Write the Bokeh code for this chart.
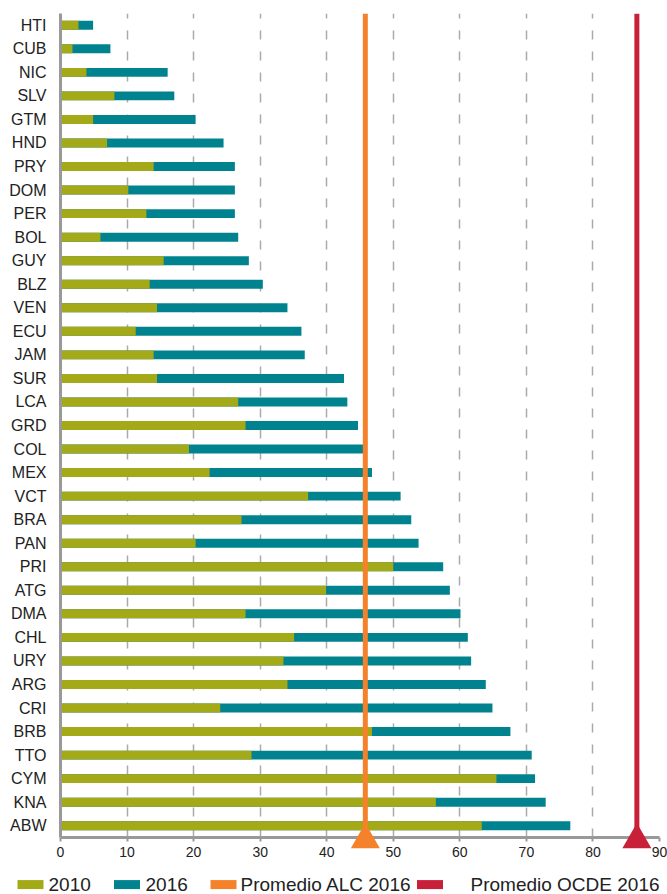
from bokeh.plotting import figure
from bokeh.models import ColumnDataSource, FactorRange, Range1d, Span, FixedTicker
from bokeh.core.properties import value
from bokeh.embed import file_html
from bokeh.resources import INLINE

countries = ["HTI", "CUB", "NIC", "SLV", "GTM", "HND", "PRY", "DOM", "PER", "BOL",
             "GUY", "BLZ", "VEN", "ECU", "JAM", "SUR", "LCA", "GRD", "COL", "MEX",
             "VCT", "BRA", "PAN", "PRI", "ATG", "DMA", "CHL", "URY", "ARG", "CRI",
             "BRB", "TTO", "CYM", "KNA", "ABW"]
v2010 = [2.7, 1.8, 3.9, 8.1, 4.9, 7.0, 14.0, 10.2, 12.9, 6.0,
         15.5, 13.4, 14.5, 11.3, 14.0, 14.5, 26.7, 27.8, 19.3, 22.4,
         37.2, 27.2, 20.3, 50.0, 39.9, 27.8, 35.1, 33.5, 34.1, 24.0,
         46.8, 28.7, 65.5, 56.4, 63.3]
v2016 = [4.9, 7.5, 16.1, 17.1, 20.3, 24.5, 26.2, 26.2, 26.2, 26.7,
         28.3, 30.4, 34.1, 36.2, 36.7, 42.6, 43.1, 44.7, 45.5, 46.8,
         51.1, 52.7, 53.8, 57.5, 58.5, 60.1, 61.2, 61.7, 63.9, 64.9,
         67.6, 70.8, 71.3, 72.9, 76.6]
legend_labels = ["2010", "2016", "Promedio ALC 2016", "Promedio OCDE 2016"]
avg_values = [45.8, 86.6]
x_ticks = [0, 10, 20, 30, 40, 50, 60, 70, 80, 90]

OLIVE = "#A4A917"
TEAL = "#00838F"
ORANGE = "#F5822A"
RED = "#C9203A"
AXIS = "#999999"
FONT = "Liberation Sans"

# layout constants (pixels)
FRAME_LEFT, FRAME_W = 60, 599
X_MAX = 90
PX_PER_UNIT = FRAME_W / X_MAX

p = figure(y_range=FactorRange(factors=countries[::-1]),
           x_range=Range1d(0, X_MAX),
           width=667, height=894,
           min_border_left=FRAME_LEFT, min_border_right=667 - FRAME_LEFT - FRAME_W,
           min_border_top=13, min_border_bottom=57,
           output_backend="svg", toolbar_location=None)
p.outline_line_color = None
p.background_fill_color = "white"

src = ColumnDataSource(dict(country=countries, v2010=v2010, v2016=v2016))
p.hbar(y="country", left=0, right="v2016", height=0.38, fill_color=TEAL,
       line_color=None, source=src)
p.hbar(y="country", left=0, right="v2010", height=0.38, fill_color=OLIVE,
       line_color=None, source=src)

for v, c in zip(avg_values, [ORANGE, RED]):
    p.add_layout(Span(location=v, dimension="height", line_color=c, line_width=5))

# triangles sitting on the x axis (bottom edge of the last category)
base = (countries[-1], -0.6)
tri_src = ColumnDataSource(dict(x=avg_values, y=[base, base], c=[ORANGE, RED]))
p.scatter(x="x", y="y", marker="triangle", size=29, fill_color="c", line_color=None,
          source=tri_src, level="overlay")

# legend drawn below the axis (swatch centres and text starts in page pixels)
swatch_px = [30, 126.5, 223, 429.5]
text_px = [48, 145, 240, 470]
leg_row = (countries[-1], -2.5)
sw_src = ColumnDataSource(dict(
    x=[(px - FRAME_LEFT) / PX_PER_UNIT for px in swatch_px],
    y=[leg_row] * 4, c=[OLIVE, TEAL, ORANGE, RED]))
p.rect(x="x", y="y", width=26, height=9, width_units="screen", height_units="screen",
       fill_color="c", line_color=None, source=sw_src, level="overlay")
tx_src = ColumnDataSource(dict(
    x=[(px - FRAME_LEFT) / PX_PER_UNIT for px in text_px],
    y=[leg_row] * 4, t=legend_labels))
p.text(x="x", y="y", text="t", text_font=value(FONT), text_font_size="19px",
       text_color="#222222", text_align="left", text_baseline="middle",
       source=tx_src, level="overlay")

# axes
p.xaxis.ticker = FixedTicker(ticks=x_ticks)
p.xaxis.axis_line_color = AXIS
p.xaxis.axis_line_width = 3
p.xaxis.major_tick_line_color = AXIS
p.xaxis.major_tick_line_width = 2
p.xaxis.major_tick_out = 4
p.xaxis.major_tick_in = 0
p.xaxis.minor_tick_line_color = None
p.xaxis.major_label_text_font = FONT
p.xaxis.major_label_text_font_size = "14px"
p.xaxis.major_label_text_color = "#222222"
p.xaxis.major_label_standoff = 5

p.yaxis.axis_line_color = AXIS
p.yaxis.axis_line_width = 3
p.yaxis.major_tick_line_color = None
p.yaxis.major_label_text_font = FONT
p.yaxis.major_label_text_font_size = "16px"
p.yaxis.major_label_text_color = "#222222"
p.yaxis.major_label_standoff = 8

p.xgrid.ticker = FixedTicker(ticks=x_ticks[1:])
p.xgrid.grid_line_color = "#AAAAAA"
p.xgrid.grid_line_width = 1.5
p.xgrid.grid_line_dash = "9 12"
p.ygrid.grid_line_color = None

open("out.html", "w").write(file_html(p, INLINE))
